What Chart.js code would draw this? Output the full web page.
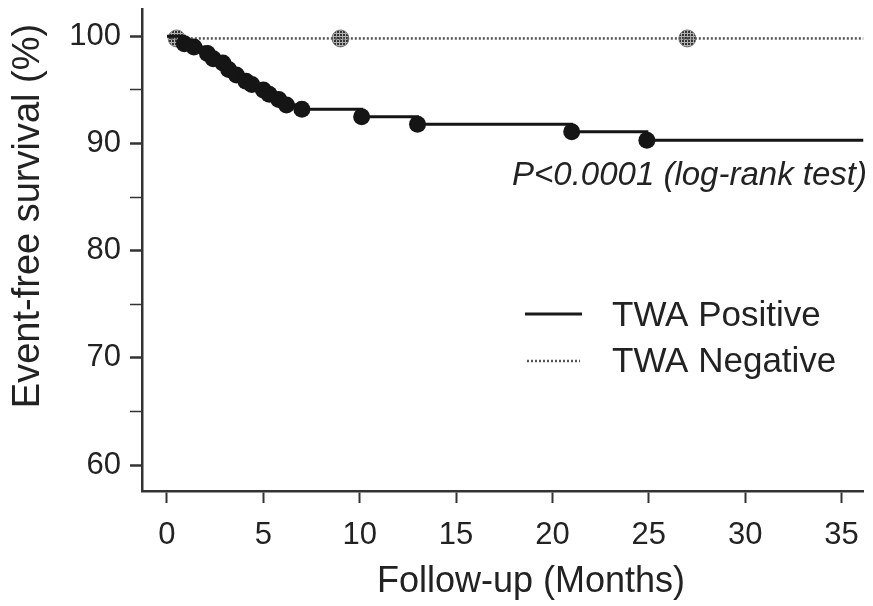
<!DOCTYPE html>
<html>
<head>
<meta charset="utf-8">
<script src="https://cdn.jsdelivr.net/npm/chart.js"></script>
<style>
  html, body { margin: 0; padding: 0; background: #fff; }
</style>
</head>
<body>
<canvas id="km" width="873" height="606"></canvas>
<script>
// event times / survival for TWA positive group
var posMonths = [0.9, 1.4, 2.1, 2.4, 2.9, 3.2, 3.6, 4.1, 4.4, 5.0, 5.3, 5.8, 6.2, 7.0, 10.1, 13.0, 21.0, 24.9];
var posSurv   = [99.3, 99.0, 98.4, 97.9, 97.5, 96.9, 96.4, 95.8, 95.5, 95.0, 94.6, 94.1, 93.6, 93.2, 92.5, 91.8, 91.1, 90.3];
// censor marks for TWA negative group
var negMonths = [0.5, 9.0, 27.0];
var negSurv   = [99.8, 99.8, 99.8];
var followEnd = 36.14;

var xTicks = [0, 5, 10, 15, 20, 25, 30, 35];
var yTicks = [60, 65, 70, 75, 80, 85, 90, 95, 100];
var legendLabels = ['TWA Positive', 'TWA Negative'];
var pText = 'P<0.0001 (log-rank test)';
var xTitle = 'Follow-up (Months)';
var yTitle = 'Event-free survival (%)';

var FONT = "'Liberation Sans', Arial, sans-serif";

// step curves
var posLine = [{x: 0, y: 100}];
posMonths.forEach(function (m, i) { posLine.push({x: m, y: posSurv[i]}); });
posLine.push({x: followEnd, y: posSurv[posSurv.length - 1]});
var posDots = posMonths.map(function (m, i) { return {x: m, y: posSurv[i]}; });
var negLine = [{x: 0.2, y: negSurv[0]}, {x: followEnd, y: negSurv[0]}];
var negDots = negMonths.map(function (m, i) { return {x: m, y: negSurv[i]}; });

// stippled grey fill like the scanned markers
var pc = document.createElement('canvas');
pc.width = 3; pc.height = 3;
var pctx = pc.getContext('2d');
pctx.fillStyle = '#b0b0b0'; pctx.fillRect(0, 0, 3, 3);
pctx.fillStyle = '#333'; pctx.fillRect(1, 1, 2, 2);
var stipple = pctx.createPattern(pc, 'repeat');

function noPad(s) {
    s.paddingTop = 0; s.paddingBottom = 0;
    s.paddingLeft = 0; s.paddingRight = 0;
}

var textPlugin = {
    id: 'texts',
    afterDraw: function (chart) {
        var ctx = chart.ctx;
        ctx.save();
        ctx.fillStyle = '#222';
        ctx.textBaseline = 'middle';

        // p value
        ctx.font = 'italic 33px ' + FONT;
        ctx.textAlign = 'right';
        ctx.fillText(pText, 867, 176);

        // legend
        ctx.textAlign = 'left';
        ctx.font = '35px ' + FONT;
        ctx.strokeStyle = '#1a1a1a';
        ctx.lineWidth = 3;
        ctx.beginPath(); ctx.moveTo(525, 314); ctx.lineTo(582, 314); ctx.stroke();
        ctx.fillText(legendLabels[0], 612, 316);
        ctx.strokeStyle = '#555';
        ctx.lineWidth = 2.5;
        ctx.setLineDash([2, 2]);
        ctx.beginPath(); ctx.moveTo(527, 361); ctx.lineTo(580, 361); ctx.stroke();
        ctx.setLineDash([]);
        ctx.fillText(legendLabels[1], 612, 362);

        // axis titles
        ctx.textAlign = 'center';
        ctx.font = '36px ' + FONT;
        ctx.fillText(xTitle, 531, 582);
        ctx.translate(29, 216);
        ctx.rotate(-Math.PI / 2);
        ctx.font = '38px ' + FONT;
        ctx.fillText(yTitle, 0, 0);
        ctx.restore();
    }
};

var ctx = document.getElementById('km').getContext('2d');
var myChart = new Chart(ctx, {
    type: 'scatter',
    data: {
        datasets: [{
            label: legendLabels[0],
            data: posLine,
            showLine: true,
            stepped: true,
            pointRadius: 0,
            borderColor: '#151515',
            borderWidth: 3
        }, {
            label: legendLabels[0] + ' events',
            data: posDots,
            showLine: false,
            pointRadius: 8.5,
            backgroundColor: '#151515',
            borderColor: '#151515',
            borderWidth: 0
        }, {
            label: legendLabels[1],
            data: negLine,
            showLine: true,
            pointRadius: 0,
            borderColor: '#555',
            borderWidth: 2.5,
            borderDash: [2, 2]
        }, {
            label: legendLabels[1] + ' censored',
            data: negDots,
            showLine: false,
            pointRadius: 8.5,
            backgroundColor: stipple,
            borderColor: '#777',
            borderWidth: 1
        }]
    },
    options: {
        responsive: false,
        animation: false,
        events: [],
        layout: { padding: { top: 4, right: 0, left: 0, bottom: 0 } },
        plugins: {
            legend: { display: false },
            tooltip: { enabled: false }
        },
        scales: {
            x: {
                type: 'linear',
                min: -1.296,
                max: 36.14,
                afterBuildTicks: function (s) { s.ticks = xTicks.map(function (v) { return {value: v}; }); },
                afterFit: function (s) { s.height = 115; noPad(s); },
                grid: { drawOnChartArea: false, drawTicks: true, tickLength: 12, tickWidth: 2, tickColor: '#333' },
                border: { display: true, color: '#333', width: 2.5 },
                ticks: { color: '#222', font: { family: FONT, size: 31 }, padding: 14, maxRotation: 0 }
            },
            y: {
                type: 'linear',
                min: 57.59,
                max: 102.5,
                afterBuildTicks: function (s) { s.ticks = yTicks.map(function (v) { return {value: v}; }); },
                afterFit: function (s) { s.width = 142; noPad(s); },
                grid: {
                    drawOnChartArea: false, drawTicks: true, tickLength: 12,
                    tickWidth: function (c) { return c.tick && c.tick.value % 10 === 0 ? 2.5 : 1.5; },
                    tickColor: '#333'
                },
                border: { display: true, color: '#333', width: 2.5 },
                ticks: {
                    color: '#222', font: { family: FONT, size: 31 }, padding: 9,
                    callback: function (v) { return v % 10 === 0 ? v : ''; }
                }
            }
        }
    },
    plugins: [textPlugin]
});
</script>
</body>
</html>
